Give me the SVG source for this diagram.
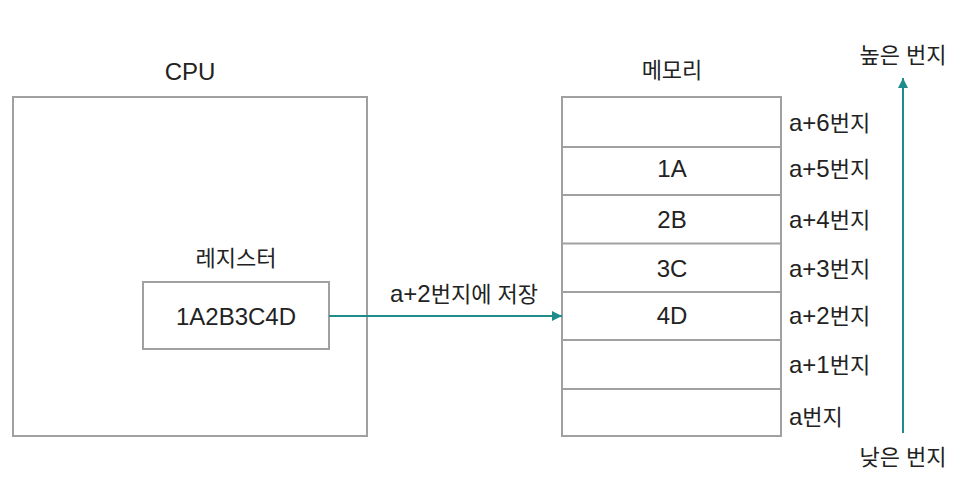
<svg xmlns="http://www.w3.org/2000/svg" width="964" height="496" viewBox="0 0 964 496">
<style>
.box{fill:#fff;stroke:#a0a0a0;stroke-width:2}
.t{font-family:"Liberation Sans","Noto Sans CJK KR",sans-serif;font-size:22px;fill:#222}
.l{font-size:24px}
.m{text-anchor:middle}
.c{stroke:#1e8c8c;stroke-width:2;fill:none}
</style>
<defs>
<marker id="ah" viewBox="0 0 10 10" refX="10" refY="5" markerWidth="10" markerHeight="10" markerUnits="userSpaceOnUse" orient="auto">
<path d="M0,0 L10,5 L0,10 Z" fill="#1e8c8c"/>
</marker>
</defs>
<rect width="964" height="496" fill="#fff"/>
<g id="cpu">
<rect class="box" x="13" y="97" width="354" height="339"/>
<text class="t l m" x="190" y="80">CPU</text>
</g>
<g id="register">
<text class="t m" x="236" y="266">레지스터</text>
<rect class="box" x="143" y="282" width="186" height="67"/>
<text class="t l m" x="236" y="325">1A2B3C4D</text>
</g>
<g id="memory">
<text class="t m" x="672" y="78">메모리</text>
<rect class="box" x="562" y="97" width="219" height="339"/>
<line class="box" x1="562" y1="147" x2="781" y2="147"/>
<line class="box" x1="562" y1="195" x2="781" y2="195"/>
<line class="box" x1="562" y1="243.5" x2="781" y2="243.5"/>
<line class="box" x1="562" y1="292" x2="781" y2="292"/>
<line class="box" x1="562" y1="340" x2="781" y2="340"/>
<line class="box" x1="562" y1="389" x2="781" y2="389"/>
<text class="t l m" x="672" y="177">1A</text>
<text class="t l m" x="672" y="228">2B</text>
<text class="t l m" x="672" y="277">3C</text>
<text class="t l m" x="672" y="324">4D</text>
<text class="t" x="789" y="131"><tspan class="l">a+6</tspan>번지</text>
<text class="t" x="789" y="177"><tspan class="l">a+5</tspan>번지</text>
<text class="t" x="789" y="228"><tspan class="l">a+4</tspan>번지</text>
<text class="t" x="789" y="277"><tspan class="l">a+3</tspan>번지</text>
<text class="t" x="789" y="324"><tspan class="l">a+2</tspan>번지</text>
<text class="t" x="789" y="373"><tspan class="l">a+1</tspan>번지</text>
<text class="t" x="789" y="425"><tspan class="l">a</tspan>번지</text>
<text class="t m" x="903" y="63">높은 번지</text>
<text class="t m" x="903" y="465">낮은 번지</text>
</g>
<g id="connectors">
<line class="c" x1="329" y1="316" x2="562" y2="316" marker-end="url(#ah)"/>
<text class="t m" x="464" y="302"><tspan class="l">a+2</tspan>번지에 저장</text>
<line class="c" x1="903" y1="433" x2="903" y2="78" marker-end="url(#ah)"/>
</g>
</svg>
